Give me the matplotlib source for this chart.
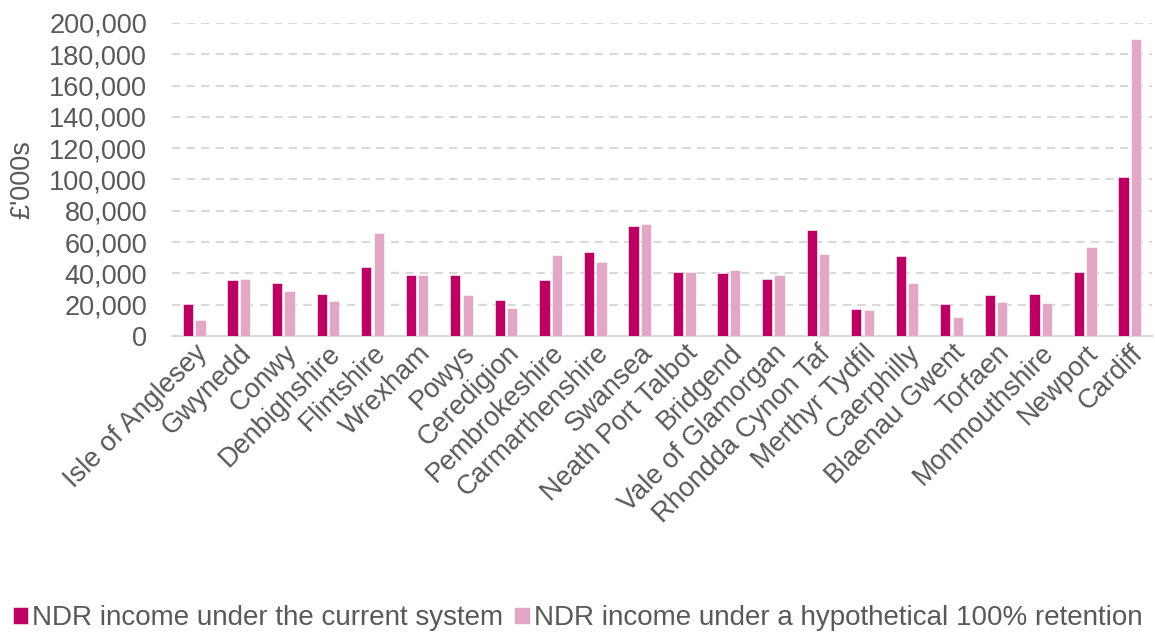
import matplotlib.pyplot as plt
import numpy as np

plt.rcParams['font.family'] = ['Liberation Sans', 'DejaVu Sans']

# local authorities, left to right
areas = ['Isle of Anglesey', 'Gwynedd', 'Conwy', 'Denbighshire', 'Flintshire',
         'Wrexham', 'Powys', 'Ceredigion', 'Pembrokeshire', 'Carmarthenshire',
         'Swansea', 'Neath Port Talbot', 'Bridgend', 'Vale of Glamorgan',
         'Rhondda Cynon Taf', 'Merthyr Tydfil', 'Caerphilly', 'Blaenau Gwent',
         'Torfaen', 'Monmouthshire', 'Newport', 'Cardiff']

# £'000s
current = [20300, 35600, 34100, 27000, 43900, 38800, 39000, 23000, 35800, 53700,
           70100, 40700, 40400, 36400, 67700, 17000, 50900, 20300, 26200, 26600,
           41100, 101400]
retention = [10400, 36400, 28800, 22600, 65600, 38800, 26400, 17700, 51900, 47300,
             71600, 40700, 42000, 38800, 52400, 16800, 33900, 12400, 21900, 21100,
             57100, 190000]

dark = '#BC0063'
light = '#E2A7C4'
grey = '#595959'
fs = 19.5

fig = plt.figure(figsize=(11.55, 6.37), dpi=100)
ax = fig.add_axes([172 / 1155, 1 - 336 / 637, (1152 - 172) / 1155, (336 - 23) / 637])

x = np.arange(len(areas))
w = 0.23
ax.bar(x - 0.14, current, w, color=dark, edgecolor='white', linewidth=0.4,
       label='NDR income under the current system', zorder=3)
ax.bar(x + 0.14, retention, w, color=light, edgecolor='white', linewidth=0.4,
       label='NDR income under a hypothetical 100% retention', zorder=3)

ax.set_xlim(-0.5, len(areas) - 0.5)
ax.set_ylim(0, 200000)
ax.set_yticks(np.arange(0, 200001, 20000))
ax.set_yticklabels([f'{v:,}' for v in range(0, 200001, 20000)])
ax.yaxis.grid(True, linestyle=(0, (4, 3)), color='#D9D9D9', linewidth=1.5, zorder=0)
ax.set_axisbelow(True)

for s in ['top', 'right', 'left']:
    ax.spines[s].set_visible(False)
ax.spines['bottom'].set_color('#D9D9D9')
ax.spines['bottom'].set_linewidth(1.5)

ax.set_xticks(x)
ax.set_xticklabels(areas, rotation=45, ha='right', rotation_mode='anchor')
ax.tick_params(axis='both', length=0, labelsize=fs, labelcolor=grey)
ax.tick_params(axis='x', pad=3)
ax.tick_params(axis='y', pad=18)
ax.set_ylabel("£'000s", fontsize=fs, color=grey, labelpad=10)

fig.legend(loc='lower center', bbox_to_anchor=(0.5, -0.03), ncol=2, frameon=False,
           fontsize=20, labelcolor=grey, handlelength=0.55, handleheight=0.55,
           handletextpad=0.15, columnspacing=0.4)

fig.savefig('out.png', dpi=100)
